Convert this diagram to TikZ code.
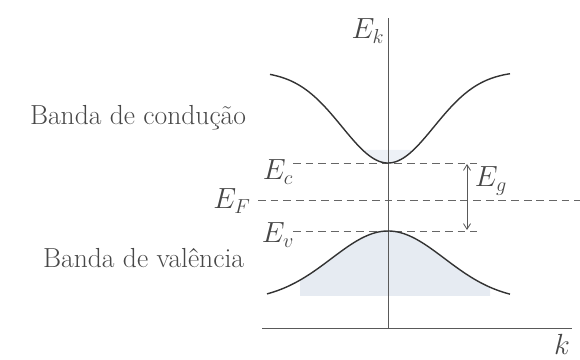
\documentclass[tikz,border=0pt]{standalone}
\usetikzlibrary{positioning,arrows.meta,calc}
\usepackage{amsmath}
\definecolor{bandfill}{HTML}{E6EBF2}

\begin{document}
\begin{tikzpicture}[x=0.025cm, y=-0.025cm, >={Straight Barb[length=4pt,width=5pt]},
  every node/.style={font=\fontsize{19.6}{23.5}\selectfont, text=black!72},
  band/.style={line width=1pt, draw=black!80},
  level/.style={dash pattern=on 5.5pt off 3.5pt, draw=black!60, line width=0.6pt},
  axis/.style={draw=black!65, line width=0.6pt}]
  \useasboundingbox (0,0) rectangle (580,360);

  % occupied states
  \fill[bandfill] plot[domain=300:490, samples=60] (\x,{231+70*(1-exp(-((\x-388)/80)^2))})
    -- (490,296) -- (300,296) -- cycle;
  \fill[bandfill!70] plot[domain=362:414, samples=30] (\x,{163-92*(1-exp(-((\x-388)/65)^2))})
    -- (414,150) -- (362,150) -- cycle;

  % levels
  \coordinate (ec1) at (293,163);
  \coordinate (ec2) at (477,163);
  \coordinate (ev1) at (293,231);
  \coordinate (ev2) at (477,231);
  \coordinate (ef1) at (258,200);
  \coordinate (ef2) at (580,200);
  \draw[level] (ec1) -- (ec2);
  \draw[level] (ev1) -- (ev2);
  \draw[level] (ef1) -- (ef2);

  % axes
  \coordinate (top) at (388,18);
  \coordinate (bot) at (388,328);
  \coordinate (xl) at (262,328);
  \coordinate (xr) at (572,328);
  \draw[axis] (bot) -- (top);
  \draw[axis] (xl) -- (xr);

  % bands
  \draw[band] plot[domain=270:510, samples=100] (\x,{163-92*(1-exp(-((\x-388)/65)^2))});
  \draw[band] plot[domain=267:510, samples=100] (\x,{231+70*(1-exp(-((\x-388)/80)^2))});

  % gap
  \coordinate (gt) at (467,164);
  \coordinate (gb) at (467,230);
  \draw[<->, draw=black!65, line width=0.6pt] (gt) -- (gb);

  \node (ek) at (368,31) {$E_k$};
  \node (kk) at (562,344) {$k$};
  \node (ec) at (278,172) {$E_c$};
  \node (ef) at (232,201) {$E_F$};
  \node (ev) at (278,235) {$E_v$};
  \node (eg) at (491,181) {$E_g$};
  \node[anchor=base east] (cond) at (251,125) {Banda de condução};
  \node[anchor=base east] (val) at (249,268) {Banda de valência};
\end{tikzpicture}
\end{document}
